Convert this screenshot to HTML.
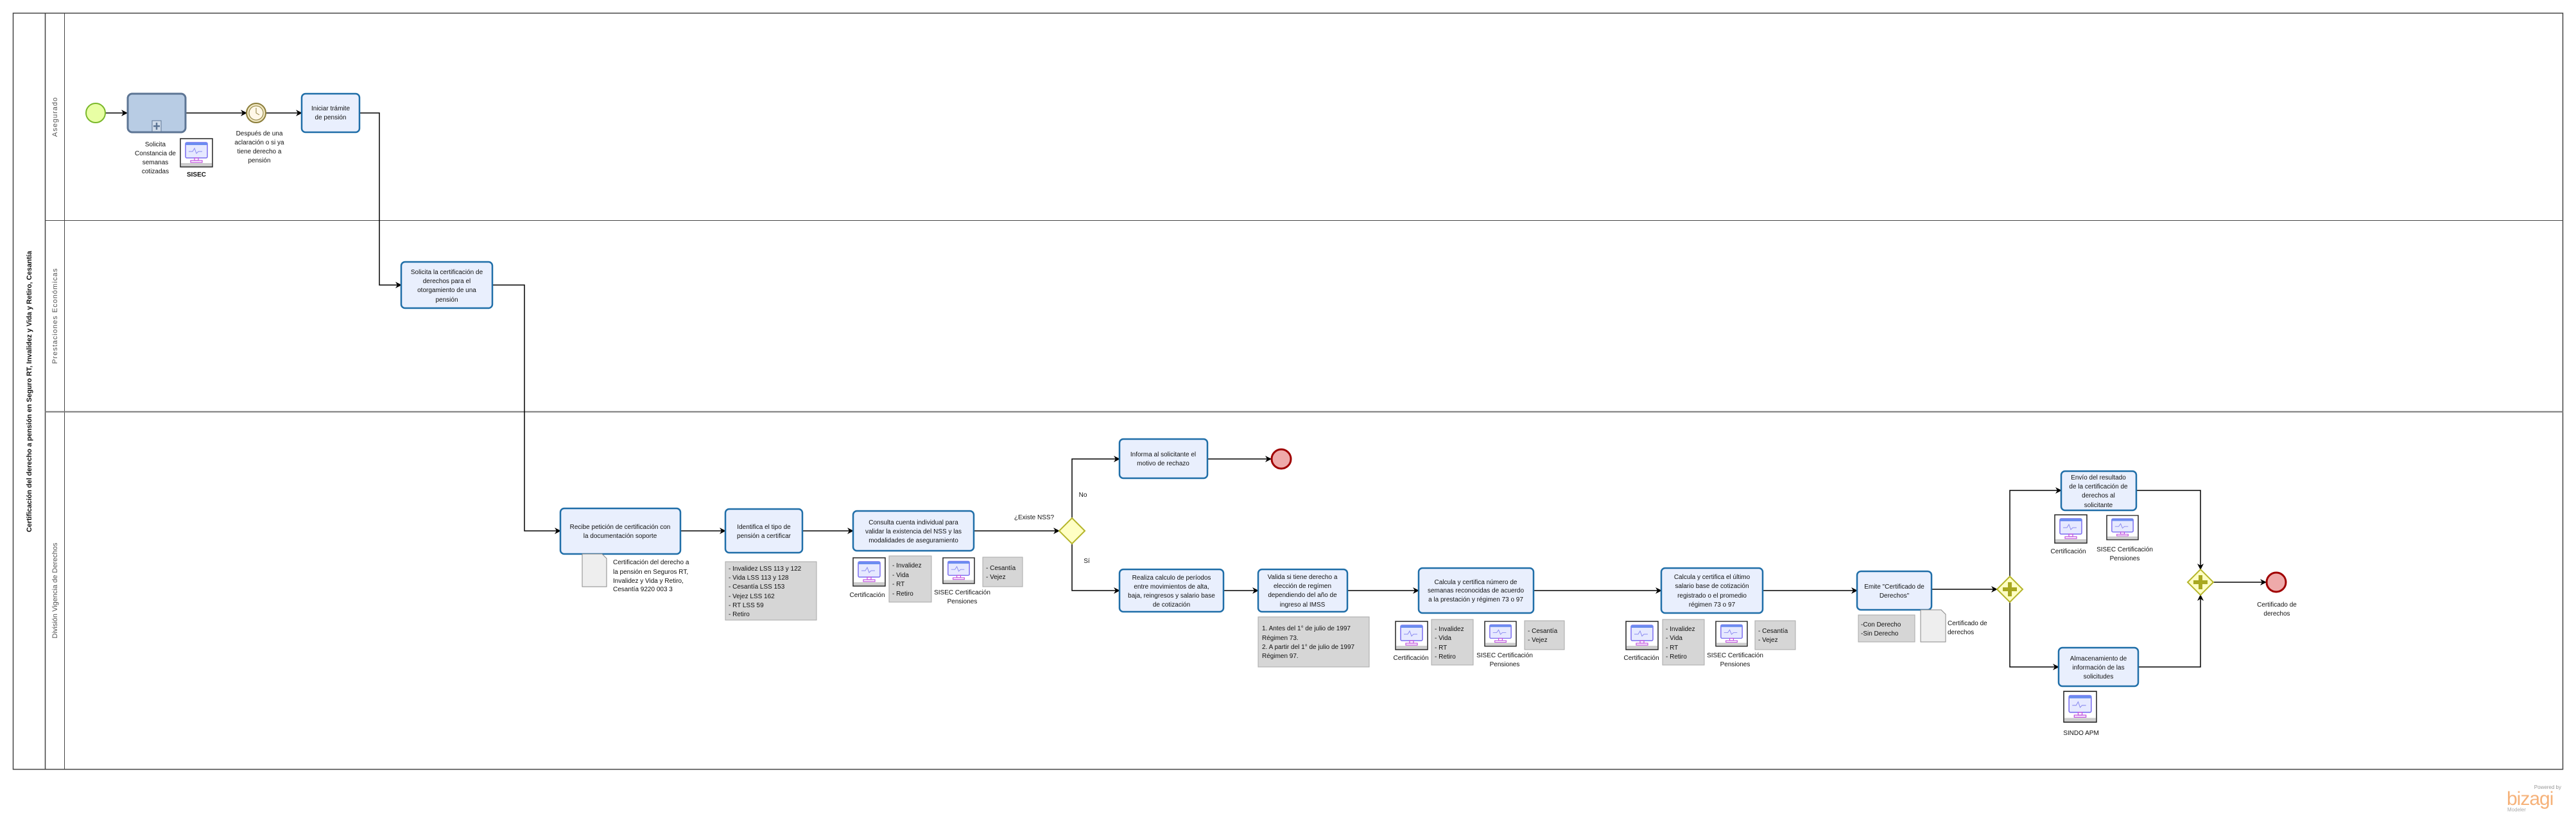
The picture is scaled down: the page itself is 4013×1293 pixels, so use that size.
<!DOCTYPE html>
<html><head><meta charset="utf-8"><style>
html,body{margin:0;padding:0;background:#fff;}
svg{display:block;}
text{font-family:"Liberation Sans Narrow","Liberation Sans",sans-serif;font-size:10px;fill:#111;}
.c{text-anchor:middle;}
.lane{font-family:"Liberation Sans",sans-serif;font-size:11px;fill:#555;letter-spacing:1px;text-anchor:middle;}
.task{fill:#e9effd;stroke:#1f6ea8;stroke-width:2.5;}
.gray{fill:#d6d6d6;stroke:#a8a8a8;stroke-width:1;}
.ln{fill:none;stroke:#000;stroke-width:1.5;}
</style></head><body>
<svg width="4013" height="1293" viewBox="0 0 4013 1293" xmlns="http://www.w3.org/2000/svg">
<defs>
<marker id="a" markerWidth="10" markerHeight="10" refX="9" refY="5" orient="auto" markerUnits="userSpaceOnUse"><path d="M0,0 L10,5 L0,10 L3,5 z" fill="#000"/></marker>
<g id="ic">
<rect x="0" y="0" width="50" height="44" fill="#fff" stroke="#222" stroke-width="1.5"/>
<rect x="1" y="38" width="48" height="5" fill="#ccc"/>
<rect x="8" y="6" width="34" height="24" rx="2" fill="#e6e9ff" stroke="#7a6cf0" stroke-width="1.5"/>
<rect x="8" y="6" width="34" height="4" fill="#6b8cf0"/>
<path d="M13,20 h6 l3,-5 l3,8 l3,-3 h6" fill="none" stroke="#8a8af0" stroke-width="1"/>
<rect x="22" y="30" width="6" height="4" fill="none" stroke="#c050e0" stroke-width="1.2"/>
<rect x="16" y="34" width="18" height="3" fill="none" stroke="#c050e0" stroke-width="1.2"/>
</g>
<g id="gw"><path d="M0,-20 L20,0 L0,20 L-20,0 z" fill="#ffffc4" stroke="#b5b52a" stroke-width="2"/></g>
<g id="gwp"><use href="#gw"/><path d="M-3,-11 h6 v8 h8 v6 h-8 v8 h-6 v-8 h-8 v-6 h8 z" fill="#a8a820"/></g>
</defs>

<rect x="20.5" y="20.5" width="3972" height="1178" fill="none" stroke="#444" stroke-width="1.5"/>
<line x1="70.5" y1="20" x2="70.5" y2="1199" stroke="#444" stroke-width="1.5"/>
<line x1="100.5" y1="20" x2="100.5" y2="1199" stroke="#444" stroke-width="1"/>
<line x1="70" y1="343.5" x2="3993" y2="343.5" stroke="#444" stroke-width="1"/>
<line x1="70" y1="641.5" x2="3993" y2="641.5" stroke="#777" stroke-width="2"/>
<text transform="translate(49,610) rotate(-90)" class="c" style="font-family:'Liberation Sans',sans-serif;font-weight:bold;font-size:11px;" textLength="438" lengthAdjust="spacingAndGlyphs">Certificación del  derecho a  pensión en Seguro RT, Invalidez y Vida y Retiro, Cesantía</text>
<text transform="translate(89,182) rotate(-90)" class="lane">Asegurado</text>
<text transform="translate(89,492) rotate(-90)" class="lane">Prestaciones Económicas</text>
<text transform="translate(89,920) rotate(-90)" class="lane" style="letter-spacing:0">División Vigencia de Derechos</text>

<g class="ln">
<path d="M164,176 H198" marker-end="url(#a)"/>
<path d="M289,176 H384" marker-end="url(#a)"/>
<path d="M414,176 H470" marker-end="url(#a)"/>
<path d="M560,176 H591 V444 H625" marker-end="url(#a)"/>
<path d="M767,444 H817 V827 H873" marker-end="url(#a)"/>
<path d="M1060,827 H1130" marker-end="url(#a)"/>
<path d="M1250,827 H1329" marker-end="url(#a)"/>
<path d="M1517,827 H1650" marker-end="url(#a)"/>
<path d="M1670,807 V715 H1744" marker-end="url(#a)"/>
<path d="M1670,847 V920 H1744" marker-end="url(#a)"/>
<path d="M1881,715 H1980" marker-end="url(#a)"/>
<path d="M1906,920 H1960" marker-end="url(#a)"/>
<path d="M2099,920 H2210" marker-end="url(#a)"/>
<path d="M2389,920 H2588" marker-end="url(#a)"/>
<path d="M2746,920 H2893" marker-end="url(#a)"/>
<path d="M3009,918 H3111" marker-end="url(#a)"/>
<path d="M3131,898 V764 H3211" marker-end="url(#a)"/>
<path d="M3131,938 V1039 H3207" marker-end="url(#a)"/>
<path d="M3328,764 H3428 V887" marker-end="url(#a)"/>
<path d="M3331,1039 H3428 V927" marker-end="url(#a)"/>
<path d="M3448,907 H3530" marker-end="url(#a)"/>
</g>

<circle cx="149" cy="176" r="15" fill="#e8ffa4" stroke="#7ab82a" stroke-width="2"/>
<rect x="199" y="146" width="90" height="60" rx="7" fill="#b8cce4" stroke="#5d7594" stroke-width="3"/>
<rect x="237" y="188" width="14" height="17" fill="#d0dcea" stroke="#5d7594" stroke-width="1"/>
<path d="M244,191 v11 M239,196.5 h10" stroke="#5d7594" stroke-width="2.5"/>
<circle cx="399" cy="176" r="15" fill="#efe6c0" stroke="#8b7d3a" stroke-width="2"/>
<circle cx="399" cy="176" r="11" fill="#fff8e8" stroke="#8b7d3a" stroke-width="1"/>
<path d="M399,168 V176 L404,179" stroke="#8b7d3a" stroke-width="1" fill="none"/>
<rect x="470" y="146" width="90" height="60" rx="6" class="task"/>
<text class="c" x="515" y="172">Iniciar trámite</text><text class="c" x="515" y="186">de pensión</text>
<text class="c" x="242" y="228">Solicita</text><text class="c" x="242" y="242">Constancia de</text><text class="c" x="242" y="256">semanas</text><text class="c" x="242" y="270">cotizadas</text>
<use href="#ic" transform="translate(281,216)"/>
<text class="c" x="306" y="275" style="font-weight:bold">SISEC</text>
<text class="c" x="404" y="211">Después de una</text><text class="c" x="404" y="225">aclaración o si ya</text><text class="c" x="404" y="239">tiene derecho a</text><text class="c" x="404" y="253">pensión</text>

<rect x="625" y="408" width="142" height="72" rx="6" class="task"/>
<text class="c" x="696" y="427">Solicita la certificación de</text><text class="c" x="696" y="441">derechos para el</text><text class="c" x="696" y="455">otorgamiento de una</text><text class="c" x="696" y="470">pensión</text>

<rect x="873" y="792" width="187" height="71" rx="6" class="task"/>
<text class="c" x="966" y="824">Recibe petición de certificación con</text><text class="c" x="966" y="838">la documentación soporte</text>
<rect x="1130" y="793" width="120" height="68" rx="6" class="task"/>
<text class="c" x="1190" y="824">Identifica el tipo de</text><text class="c" x="1190" y="838">pensión a certificar</text>
<rect x="1329" y="796" width="188" height="62" rx="6" class="task"/>
<text class="c" x="1423" y="817">Consulta cuenta individual para</text><text class="c" x="1423" y="831">validar la existencia del NSS y las</text><text class="c" x="1423" y="845">modalidades de aseguramiento</text>

<path d="M907,863 H938 L945,870 V914 H907 z" fill="#eee" stroke="#888" stroke-width="1"/>
<text x="955" y="879">Certificación del derecho a</text><text x="955" y="894">la pensión en Seguros RT,</text><text x="955" y="908">Invalidez y Vida y Retiro,</text><text x="955" y="921">Cesantía 9220 003 3</text>
<rect x="1130" y="875" width="142" height="91" class="gray"/>
<text x="1135" y="889">- Invalidez LSS 113 y 122</text><text x="1135" y="903">- Vida LSS 113 y 128</text><text x="1135" y="917">- Cesantía LSS 153</text><text x="1135" y="932">- Vejez LSS 162</text><text x="1135" y="946">- RT  LSS 59</text><text x="1135" y="960">- Retiro</text>
<use href="#ic" transform="translate(1329,869)"/>
<text class="c" x="1351" y="930">Certificación</text>
<rect x="1385" y="866" width="66" height="72" class="gray"/>
<text x="1390" y="884">- Invalidez</text><text x="1390" y="899">- Vida</text><text x="1390" y="913">- RT</text><text x="1390" y="928">- Retiro</text>
<use href="#ic" transform="translate(1469,869) scale(0.98,0.91)"/>
<text class="c" x="1499" y="926">SISEC Certificación</text><text class="c" x="1499" y="940">Pensiones</text>
<rect x="1531" y="868" width="62" height="46" class="gray"/>
<text x="1536" y="888">- Cesantía</text><text x="1536" y="902">- Vejez</text>

<use href="#gw" transform="translate(1670,827)"/>
<text class="c" x="1611" y="809">¿Existe NSS?</text>
<text class="c" x="1687" y="774">No</text>
<text class="c" x="1693" y="877">Sí</text>

<rect x="1744" y="684" width="137" height="61" rx="6" class="task"/>
<text class="c" x="1812" y="711">Informa al solicitante el</text><text class="c" x="1812" y="725">motivo de rechazo</text>
<circle cx="1996" cy="715" r="15" fill="#eeaaaa" stroke="#a00000" stroke-width="3"/>

<rect x="1744" y="887" width="162" height="66" rx="6" class="task"/>
<text class="c" x="1825" y="903">Realiza calculo de períodos</text><text class="c" x="1825" y="917">entre movimientos de alta,</text><text class="c" x="1825" y="931">baja, reingresos y salario base</text><text class="c" x="1825" y="945">de cotización</text>

<rect x="1960" y="887" width="139" height="66" rx="6" class="task"/>
<text class="c" x="2029" y="902">Valida si tiene derecho a</text><text class="c" x="2029" y="916">elección de regímen</text><text class="c" x="2029" y="930">dependiendo del año de</text><text class="c" x="2029" y="945">ingreso al IMSS</text>
<rect x="1960" y="961" width="173" height="78" class="gray"/>
<text x="1966" y="982">1. Antes del 1° de julio de 1997</text><text x="1966" y="997">Régimen 73.</text><text x="1966" y="1011">2. A partir del 1° de julio de 1997</text><text x="1966" y="1025">Régimen 97.</text>

<rect x="2210" y="885" width="179" height="70" rx="6" class="task"/>
<text class="c" x="2299" y="910">Calcula y certifica número de</text><text class="c" x="2299" y="923">semanas reconocidas de acuerdo</text><text class="c" x="2299" y="937">a la prestación y régimen 73 o 97</text>
<use href="#ic" transform="translate(2174,968)"/>
<text class="c" x="2198" y="1028">Certificación</text>
<rect x="2230" y="965" width="65" height="71" class="gray"/>
<text x="2235" y="983">- Invalidez</text><text x="2235" y="997">- Vida</text><text x="2235" y="1012">- RT</text><text x="2235" y="1026">- Retiro</text>
<use href="#ic" transform="translate(2313,968) scale(0.98,0.88)"/>
<text class="c" x="2344" y="1024">SISEC Certificación</text><text class="c" x="2344" y="1038">Pensiones</text>
<rect x="2375" y="967" width="62" height="45" class="gray"/>
<text x="2380" y="986">- Cesantía</text><text x="2380" y="1000">- Vejez</text>

<rect x="2588" y="885" width="158" height="70" rx="6" class="task"/>
<text class="c" x="2667" y="902">Calcula y certifica el último</text><text class="c" x="2667" y="916">salario base de cotización</text><text class="c" x="2667" y="931">registrado o el promedio</text><text class="c" x="2667" y="945">régimen 73 o 97</text>
<use href="#ic" transform="translate(2533,968)"/>
<text class="c" x="2557" y="1028">Certificación</text>
<rect x="2590" y="965" width="65" height="71" class="gray"/>
<text x="2595" y="983">- Invalidez</text><text x="2595" y="997">- Vida</text><text x="2595" y="1012">- RT</text><text x="2595" y="1026">- Retiro</text>
<use href="#ic" transform="translate(2673,968) scale(0.98,0.88)"/>
<text class="c" x="2703" y="1024">SISEC Certificación</text><text class="c" x="2703" y="1038">Pensiones</text>
<rect x="2734" y="967" width="63" height="45" class="gray"/>
<text x="2739" y="986">- Cesantía</text><text x="2739" y="1000">- Vejez</text>

<rect x="2893" y="890" width="116" height="60" rx="6" class="task"/>
<text class="c" x="2951" y="917">Emite "Certificado de</text><text class="c" x="2951" y="931">Derechos"</text>
<rect x="2895" y="958" width="88" height="42" class="gray"/>
<text x="2899" y="976">-Con Derecho</text><text x="2899" y="990">-Sin Derecho</text>
<path d="M2992,950 H3024 L3031,957 V1000 H2992 z" fill="#eee" stroke="#888" stroke-width="1"/>
<text x="3034" y="974">Certificado de</text><text x="3034" y="988">derechos</text>

<use href="#gwp" transform="translate(3131,918)"/>
<rect x="3211" y="734" width="117" height="61" rx="6" class="task"/>
<text class="c" x="3269" y="747">Envío del resultado</text><text class="c" x="3269" y="761">de la certificación de</text><text class="c" x="3269" y="775">derechos al</text><text class="c" x="3269" y="790">solicitante</text>
<use href="#ic" transform="translate(3201,802)"/>
<text class="c" x="3222" y="862">Certificación</text>
<use href="#ic" transform="translate(3282,803) scale(0.98,0.86)"/>
<text class="c" x="3310" y="859">SISEC Certificación</text><text class="c" x="3310" y="873">Pensiones</text>

<rect x="3207" y="1009" width="124" height="60" rx="6" class="task"/>
<text class="c" x="3269" y="1029">Almacenamiento de</text><text class="c" x="3269" y="1043">información de las</text><text class="c" x="3269" y="1057">solicitudes</text>
<use href="#ic" transform="translate(3215,1077) scale(1.02,1.09)"/>
<text class="c" x="3242" y="1145">SINDO APM</text>

<use href="#gwp" transform="translate(3428,907)"/>
<circle cx="3546" cy="907" r="15" fill="#eeaaaa" stroke="#a00000" stroke-width="3"/>
<text class="c" x="3547" y="945">Certificado de</text><text class="c" x="3547" y="959">derechos</text>

<text x="3990" y="1229" style="font-size:8px;fill:#999;text-anchor:end">Powered by</text>
<text x="3905" y="1254" style="font-family:'Liberation Sans',sans-serif;font-size:30px;fill:#f6b27a;letter-spacing:-1px">bizagi</text>
<text x="3906" y="1264" style="font-size:8px;fill:#aaa">Modeler</text>
</svg>
</body></html>
